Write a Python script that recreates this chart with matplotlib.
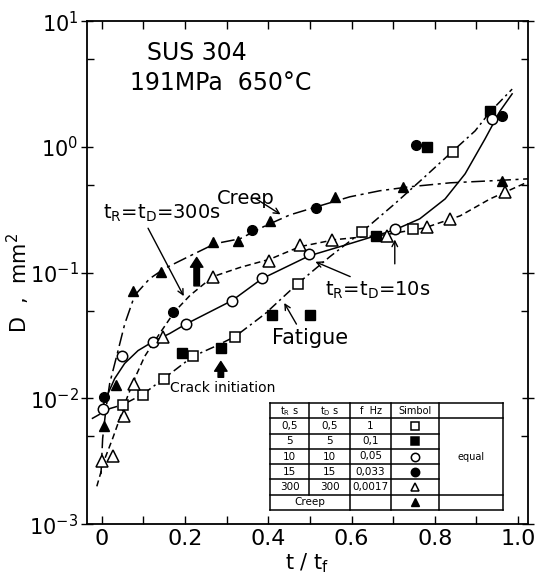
import matplotlib
matplotlib.use("Agg")
import matplotlib.pyplot as plt
from matplotlib.ticker import LogLocator, MultipleLocator, FuncFormatter, NullFormatter

# ---- data ----
sq_open_x = [0.050, 0.099, 0.149, 0.219, 0.320, 0.471, 0.625, 0.748, 0.844]
sq_open_y = [0.0088, 0.0106, 0.0144, 0.0216, 0.031, 0.082, 0.211, 0.223, 0.91]

sq_fill_x = [0.192, 0.286, 0.409, 0.500, 0.659, 0.781, 0.933]
sq_fill_y = [0.0228, 0.0254, 0.0464, 0.0464, 0.197, 1.0, 1.93]

ci_open_x = [0.002, 0.048, 0.123, 0.202, 0.313, 0.385, 0.498, 0.704, 0.938]
ci_open_y = [0.0082, 0.0219, 0.0283, 0.039, 0.060, 0.091, 0.142, 0.223, 1.67]

ci_fill_x = [0.005, 0.171, 0.361, 0.514, 0.755, 0.962]
ci_fill_y = [0.0102, 0.049, 0.219, 0.328, 1.04, 1.76]

tri_open_x = [0.0, 0.026, 0.053, 0.077, 0.147, 0.267, 0.401, 0.476, 0.553, 0.685, 0.781, 0.837, 0.969]
tri_open_y = [0.0032, 0.0035, 0.0073, 0.0131, 0.031, 0.093, 0.124, 0.167, 0.183, 0.197, 0.232, 0.268, 0.44]

tri_fill_x = [0.005, 0.034, 0.075, 0.142, 0.267, 0.327, 0.404, 0.560, 0.724, 0.962]
tri_fill_y = [0.006, 0.0129, 0.071, 0.102, 0.176, 0.180, 0.259, 0.40, 0.48, 0.54]

# hand drawn fitting curves
creep_cx = [-0.002, 0.002, 0.010, 0.019, 0.036, 0.055, 0.079, 0.115, 0.151, 0.212, 0.272, 0.332,
            0.392, 0.452, 0.524, 0.596, 0.668, 0.740, 0.837, 0.933, 1.024]
creep_cy = [0.0025, 0.0048, 0.0083, 0.0132, 0.0219, 0.039, 0.066, 0.0896, 0.108, 0.136, 0.170, 0.186,
            0.235, 0.288, 0.340, 0.401, 0.448, 0.482, 0.518, 0.537, 0.557]

t300_cx = [-0.012, 0.007, 0.026, 0.043, 0.060, 0.079, 0.103, 0.139, 0.175, 0.212, 0.267, 0.332,
           0.404, 0.476, 0.560, 0.680, 0.776, 0.861, 0.933, 1.024]
t300_cy = [0.0020, 0.0033, 0.0048, 0.0069, 0.010, 0.0144, 0.0216, 0.0328, 0.049, 0.066, 0.093, 0.110,
           0.128, 0.161, 0.183, 0.200, 0.227, 0.283, 0.386, 0.527]

t10_cx = [0.0, 0.012, 0.031, 0.055, 0.087, 0.123, 0.163, 0.202, 0.313, 0.385, 0.498, 0.596,
          0.704, 0.764, 0.825, 0.873, 0.921, 0.957, 0.986]
t10_cy = [0.0083, 0.0104, 0.0144, 0.019, 0.024, 0.0283, 0.0328, 0.039, 0.060, 0.0896, 0.136, 0.170,
          0.219, 0.268, 0.386, 0.611, 1.16, 1.93, 2.64]

t05_cx = [-0.024, 0.019, 0.050, 0.099, 0.149, 0.219, 0.272, 0.320, 0.392, 0.471, 0.548, 0.625,
          0.704, 0.776, 0.844, 0.897, 0.933, 0.986]
t05_cy = [0.0069, 0.0083, 0.0089, 0.0108, 0.0144, 0.0216, 0.0259, 0.031, 0.047, 0.082, 0.134, 0.211,
          0.353, 0.578, 0.93, 1.34, 1.90, 2.88]

x_ticks = [0, 0.2, 0.4, 0.6, 0.8, 1.0]

tab_head = ["t$_{\\rm R}$ s", "t$_{\\rm D}$ s", "f  Hz", "Simbol"]
tab_tr = ["0,5", "5", "10", "15", "300"]
tab_td = ["0,5", "5", "10", "15", "300"]
tab_f = ["1", "0,1", "0,05", "0,033", "0,0017"]
tab_mark = [("s", "white"), ("s", "k"), ("o", "white"), ("o", "k"), ("^", "white")]

plt.rcParams['font.family'] = ['DejaVu Sans']

fig = plt.figure(figsize=(5.36, 5.87), dpi=100)
ax = fig.add_axes([0.162, 0.107, 0.823, 0.857])

lw = 1.1
ax.plot(creep_cx, creep_cy, color='k', lw=lw, ls=(0, (9, 3, 2, 3)), zorder=2)
ax.plot(t300_cx, t300_cy, color='k', lw=lw, ls=(0, (4, 2.5)), zorder=2)
ax.plot(t10_cx, t10_cy, color='k', lw=lw, ls='-', zorder=2)
ax.plot(t05_cx, t05_cy, color='k', lw=lw, ls=(0, (6, 2.5, 1.5, 2.5)), zorder=2)

ms = 7
ax.plot(sq_open_x, sq_open_y, 's', ms=ms, mfc='white', mec='k', mew=1.1, zorder=3)
ax.plot(sq_fill_x, sq_fill_y, 's', ms=ms - 0.5, mfc='k', mec='k', zorder=3)
ax.plot(ci_open_x, ci_open_y, 'o', ms=ms + 0.5, mfc='white', mec='k', mew=1.1, zorder=3)
ax.plot(ci_fill_x, ci_fill_y, 'o', ms=ms, mfc='k', mec='k', zorder=3)
ax.plot(tri_open_x, tri_open_y, '^', ms=ms + 1, mfc='white', mec='k', mew=1.1, zorder=3)
ax.plot(tri_fill_x, tri_fill_y, '^', ms=ms, mfc='k', mec='k', zorder=3)

ax.set_yscale('log')
ax.set_xlim(-0.036, 1.024)
ax.set_ylim(1e-3, 1e1)

ax.xaxis.set_major_locator(plt.FixedLocator(x_ticks))
ax.xaxis.set_minor_locator(MultipleLocator(0.1))
ax.xaxis.set_major_formatter(FuncFormatter(lambda v, p: "0" if abs(v) < 1e-9 else "%.1f" % v))
ax.yaxis.set_major_locator(LogLocator(base=10, numticks=10))
ax.yaxis.set_minor_locator(LogLocator(base=10, subs=[5], numticks=10))
ax.yaxis.set_minor_formatter(NullFormatter())

ax.tick_params(axis='both', which='both', direction='in', top=True, right=True)
ax.tick_params(axis='x', which='both', length=6, width=1, labelsize=16)
ax.tick_params(axis='y', which='major', length=8, width=1, direction='inout', pad=2, labelsize=15)
ax.tick_params(axis='y', which='minor', length=5, width=1)
for s in ax.spines.values():
    s.set_linewidth(1.3)

ax.set_xlabel("t / t$_{\\rm f}$", fontsize=15, labelpad=2)
ax.set_ylabel("D  ,  mm$^2$", fontsize=15)
ax.yaxis.set_label_coords(-0.125, 0.48)

# annotations
ax.text(0.136, 0.936, "SUS 304", transform=ax.transAxes, fontsize=17, va='center')
ax.text(0.0975, 0.877, "191MPa  650°C", transform=ax.transAxes, fontsize=17, va='center')

ax.text(0.276, 0.386, "Creep", fontsize=14, va='center')
ax.annotate("", xy=(0.435, 0.283), xytext=(0.363, 0.401),
            arrowprops=dict(arrowstyle='->', color='k', lw=1))
ax.text(0.0024, 0.294, "t$_{\\rm R}$=t$_{\\rm D}$=300s", fontsize=14, va='center')
ax.annotate("", xy=(0.200, 0.0622), xytext=(0.108, 0.236),
            arrowprops=dict(arrowstyle='->', color='k', lw=1))
ax.text(0.536, 0.072, "t$_{\\rm R}$=t$_{\\rm D}$=10s", fontsize=14, va='center')
ax.annotate("", xy=(0.507, 0.1245), xytext=(0.603, 0.0912),
            arrowprops=dict(arrowstyle='->', color='k', lw=1))
ax.annotate("", xy=(0.704, 0.193), xytext=(0.704, 0.1117),
            arrowprops=dict(arrowstyle='->', color='k', lw=1))
ax.text(0.409, 0.0305, "Fatigue", fontsize=15, va='center')
ax.annotate("", xy=(0.435, 0.060), xytext=(0.471, 0.0373),
            arrowprops=dict(arrowstyle='->', color='k', lw=1))
ax.text(0.163, 0.012, "Crack initiation", fontsize=10, va='center')
ax.annotate("", xy=(0.228, 0.139), xytext=(0.228, 0.0746),
            arrowprops=dict(arrowstyle='simple,head_width=0.9,head_length=0.7,tail_width=0.4',
                            fc='k', ec='k'))
ax.annotate("", xy=(0.286, 0.0207), xytext=(0.286, 0.0140),
            arrowprops=dict(arrowstyle='simple,head_width=0.9,head_length=0.7,tail_width=0.4',
                            fc='k', ec='k'))

# table drawn in an inset
tab = fig.add_axes([270 / 536, 77 / 587, 233 / 536, 107 / 587])
tab.set_xlim(0, 233)
tab.set_ylim(7, 0)
tab.axis('off')
cols = [0, 39, 80, 121, 169, 233]
tlw = 1.1
for r in [0, 1, 6, 7]:
    tab.plot([0, 233], [r, r], color='k', lw=tlw, clip_on=False)
for r in [2, 3, 4, 5]:
    tab.plot([0, 169], [r, r], color='k', lw=tlw, clip_on=False)
for c in [0, 80, 121, 169, 233]:
    tab.plot([c, c], [0, 7], color='k', lw=tlw, clip_on=False)
tab.plot([39, 39], [0, 6], color='k', lw=tlw, clip_on=False)

centers = [(cols[i] + cols[i + 1]) / 2 for i in range(5)]
for i, h in enumerate(tab_head):
    tab.text(centers[i], 0.5, h, ha='center', va='center', fontsize=7)
for j in range(5):
    y = j + 1.5
    tab.text(centers[0], y, tab_tr[j], ha='center', va='center', fontsize=7.5)
    tab.text(centers[1], y, tab_td[j], ha='center', va='center', fontsize=7.5)
    tab.text(centers[2], y, tab_f[j], ha='center', va='center', fontsize=7.5)
    m, fc = tab_mark[j]
    tab.plot([centers[3]], [y], m, ms=6, mfc=fc, mec='k', mew=1.1)
tab.text(40, 6.5, "Creep", ha='center', va='center', fontsize=7.5)
tab.plot([centers[3]], [6.5], '^', ms=6, mfc='k', mec='k')
tab.text(centers[4], 3.5, "equal", ha='center', va='center', fontsize=7)

fig.savefig("out.png", dpi=100)
